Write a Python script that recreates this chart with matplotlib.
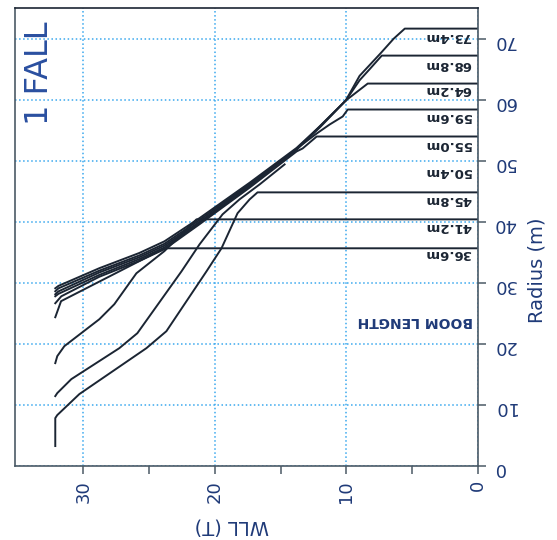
import matplotlib
matplotlib.use("Agg")
import matplotlib.pyplot as plt

# lifting curves, one per boom length: WLL (T) against radius (m)
# every curve ends with the drop to zero at its max radius
wll_36_6 = [32.14, 31.7, 23.84, 0]
radius_36_6 = [24.37, 27.0, 35.66, 35.66]

wll_41_2 = [32.14, 31.99, 31.45, 28.79, 27.65, 25.97, 23.84, 21.40, 0]
radius_41_2 = [16.85, 17.99, 19.63, 24.04, 26.50, 31.57, 35.2, 40.4, 40.4]

wll_45_8 = [32.14, 32.14, 31.99, 30.31, 25.21, 23.69, 20.64, 19.50, 18.28, 17.36, 16.76, 0]
radius_45_8 = [3.27, 7.85, 8.34, 11.78, 19.30, 22.08, 31.89, 35.66, 41.4, 43.67, 44.82, 44.82]

wll_50_4 = [32.14, 31.99, 30.92, 27.27, 25.90, 22.54, 21.17, 19.42, 18.13, 16.60, 14.70]
radius_50_4 = [11.45, 11.94, 14.23, 19.30, 21.75, 31.89, 36.3, 41.22, 43.67, 46.12, 49.4]

wll_55_0 = [32.14, 31.68, 28.79, 25.74, 23.84, 21.17, 17.36, 13.79, 13.33, 12.26, 0]
radius_55_0 = [26.66, 27.8, 31.0, 33.6, 35.5, 39.6, 45.6, 51.52, 52.01, 53.97, 53.97]

wll_59_6 = [32.14, 31.9, 28.79, 25.74, 23.84, 21.17, 17.36, 13.56, 12.26, 11.27, 10.28, 9.90, 0]
radius_59_6 = [27.80, 28.2, 31.3, 33.9, 35.8, 39.8, 45.8, 52.34, 54.46, 55.94, 57.25, 58.39, 58.39]

wll_64_2 = [32.14, 31.9, 28.79, 25.74, 23.84, 21.17, 17.36, 13.79, 12.0, 10.05, 8.38, 0]
radius_64_2 = [28.13, 28.6, 31.7, 34.2, 36.1, 40.0, 46.0, 51.8, 55.5, 59.86, 62.64, 62.64]

wll_68_8 = [32.14, 31.9, 28.79, 25.74, 23.84, 21.17, 17.36, 13.79, 12.0, 10.05, 8.99, 8.23, 7.31, 0]
radius_68_8 = [28.62, 29.1, 32.0, 34.5, 36.4, 40.3, 46.2, 51.9, 55.7, 59.86, 63.2, 65.0, 67.22, 67.22]

wll_73_4 = [32.14, 31.9, 28.79, 25.74, 23.84, 21.17, 17.36, 13.79, 12.03, 10.05, 9.0, 7.4, 6.4, 5.56, 0]
radius_73_4 = [29.11, 29.5, 32.4, 34.9, 36.8, 40.6, 46.4, 52.1, 55.6, 59.86, 63.9, 67.6, 70.0, 71.64, 71.64]

boom_labels = ['36.6m', '41.2m', '45.8m', '50.4m', '55.0m', '59.6m', '64.2m', '68.8m', '73.4m']
label_radius = [34.8, 39.3, 43.7, 48.3, 52.7, 57.25, 61.7, 65.8, 70.3]

x_ticks = [0, 10, 20, 30]
x_minor = [5, 15, 25]
y_ticks = [0, 10, 20, 30, 40, 50, 60, 70]

curves = [
    (wll_36_6, radius_36_6), (wll_41_2, radius_41_2), (wll_45_8, radius_45_8),
    (wll_50_4, radius_50_4), (wll_55_0, radius_55_0), (wll_59_6, radius_59_6),
    (wll_64_2, radius_64_2), (wll_68_8, radius_68_8), (wll_73_4, radius_73_4),
]

line_col = '#1b2533'
text_col = '#1f3a78'
grid_col = '#3aa8ee'
spine_col = '#4b5a66'

fig = plt.figure(figsize=(5.57, 5.40), dpi=100)
ax = fig.add_axes([0.027, 0.137, 0.831, 0.848])

for w, r in curves:
    ax.plot(w, r, color=line_col, linewidth=1.4, solid_joinstyle='round')

# labels sit just under each max-radius line, printed upside down
for lab, r in zip(boom_labels, label_radius):
    ax.text(0.5, r, lab, rotation=180, ha='right', va='center',
            fontsize=9.5, fontweight='bold', color=line_col)

ax.text(0.4, 23.7, 'BOOM LENGTH', rotation=180, ha='right', va='center',
        fontsize=10, fontweight='bold', color=text_col)

ax.set_xlim(35.2, 0)
ax.set_ylim(0, 75)

ax.set_xticks(x_ticks)
ax.set_xticklabels([str(t) for t in x_ticks])
ax.set_xticks(x_minor, minor=True)
ax.set_yticks(y_ticks)
ax.set_yticklabels([str(t) for t in y_ticks])
ax.yaxis.tick_right()

ax.tick_params(axis='x', which='both', direction='out', length=6, width=1.1,
               color=spine_col, labelcolor=text_col, labelsize=13,
               labelrotation=90, pad=4)
ax.tick_params(axis='y', direction='out', length=6, width=1.1,
               color=spine_col, labelcolor=text_col, labelsize=13,
               labelrotation=180, pad=5)

ax.grid(True, which='major', color=grid_col, linestyle=':', linewidth=1.1)
ax.set_axisbelow(True)

for s in ax.spines.values():
    s.set_color(spine_col)
    s.set_linewidth(1.2)
ax.spines['top'].set_color('#1b2533')

fig.text(232 / 557, 1 - 526 / 540, 'WLL (T)', rotation=180, ha='center',
         va='center', fontsize=14, color=text_col)
fig.text(537 / 557, 1 - 270 / 540, 'Radius (m)', rotation=90, ha='center',
         va='center', fontsize=14, color=text_col)
fig.text(40 / 557, 1 - 73 / 540, '1 FALL', rotation=90, ha='center',
         va='center', fontsize=23, color='#2a4fa0')

fig.savefig('out.png', dpi=100)
